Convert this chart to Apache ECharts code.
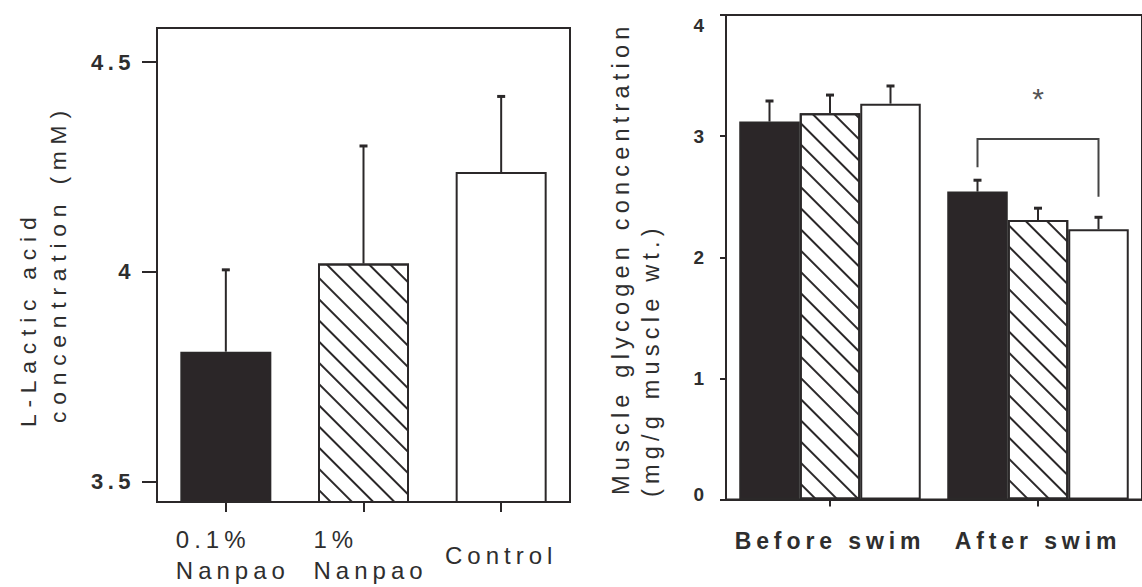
<!DOCTYPE html>
<html>
<head>
<meta charset="utf-8">
<script src="https://cdn.jsdelivr.net/npm/echarts@6/dist/echarts.min.js"></script>
<style>
  html, body { margin: 0; padding: 0; background: #ffffff; }
  #chart { width: 1142px; height: 587px; }
  /* wide tracking of the lettering, keyed on the size used by each text role */
  #chart text[style*="22.8px"] { letter-spacing: 6.8px; } /* left axis title */
  #chart text[style*="23.5px"] { letter-spacing: 5.2px; } /* right axis title */
  #chart text[style*="23px"] { letter-spacing: 4.9px; }   /* swim categories */
  #chart text[style*="24px"] { letter-spacing: 5px; }     /* treatment categories */
  #chart text[style*="22px"] { letter-spacing: 4.5px; }   /* left tick labels */
  #chart text[style*="19px"] { letter-spacing: 1px; }     /* right tick labels */
</style>
</head>
<body>
<div id="chart"></div>
<script>
// ---- L-lactic acid panel ----
const lacticCategories = ['0.1%\nNanpao', '1%\nNanpao', 'Control'];
const lacticMean = [3.81, 4.02, 4.238];
const lacticSem = [0.195, 0.28, 0.18];
const lacticTicks = [3.5, 4, 4.5];
const lacticRange = [3.452, 4.581];

// ---- muscle glycogen panel ----
const swimCategories = ['Before swim', 'After swim'];
const glycogenLow = [3.12, 2.542];       // 0.1% Nanpao
const glycogenHigh = [3.189, 2.308];     // 1% Nanpao
const glycogenControl = [3.268, 2.231];  // control
const glycogenLowSem = [0.17, 0.094];
const glycogenHighSem = [0.15, 0.097];
const glycogenControlSem = [0.146, 0.099];
const glycogenTicks = [0, 1, 2, 3, 4];

// significance bracket after swim (0.1% Nanpao vs control)
const bracketTop = [2.977];
const bracketLeftFoot = [2.743];
const bracketRightFoot = [2.50];
const starLevel = [3.31];

const FONT = 'Liberation Sans, Arial, Helvetica, sans-serif';
const INK = '#2b2829';
const TEXT = '#2e2e2e';
const SWIM_BAR = 60.5;

const hatch = {
  symbol: 'rect',
  symbolSize: 1,
  color: INK,
  backgroundColor: '#ffffff',
  dashArrayX: [1, 0],
  dashArrayY: [2, 13],
  rotation: Math.PI / 4
};
const fills = [
  { color: '#2b2628' },
  { color: '#ffffff', decal: hatch },
  { color: '#ffffff' }
];

function errorBars(axisIndex, means, sems, offset) {
  return {
    type: 'custom',
    xAxisIndex: axisIndex,
    yAxisIndex: axisIndex,
    z: 5,
    silent: true,
    clip: false,
    data: means.map((m, i) => [i, m, m + sems[i]]),
    encode: { x: 0, y: [1, 2] },
    renderItem(params, api) {
      const base = api.coord([api.value(0), api.value(1)]);
      const top = api.coord([api.value(0), api.value(2)]);
      const x = base[0] + offset;
      return {
        type: 'group',
        children: [
          { type: 'line', shape: { x1: x, y1: base[1], x2: x, y2: top[1] },
            style: { stroke: INK, lineWidth: 2 } },
          { type: 'line', shape: { x1: x - 4, y1: top[1], x2: x + 4, y2: top[1] },
            style: { stroke: INK, lineWidth: 3 } }
        ]
      };
    }
  };
}

function axisTitle(text, x, y, size) {
  return {
    type: 'text', x: x, y: y, rotation: Math.PI / 2, silent: true,
    style: { text: text, fontSize: size, fontFamily: FONT, fill: TEXT,
             align: 'left', textAlign: 'left', verticalAlign: 'middle', textVerticalAlign: 'middle' }
  };
}

const chart = echarts.init(document.getElementById('chart'), null, { renderer: 'svg' });

const option = {
  animation: false,
  backgroundColor: '#ffffff',
  textStyle: { fontFamily: FONT, color: TEXT },
  grid: [
    { left: 157, top: 28, width: 413, height: 474, show: true, borderColor: INK, borderWidth: 2, backgroundColor: 'transparent' },
    { left: 726, top: 15, width: 418, height: 484.5, show: true, borderColor: INK, borderWidth: 2, backgroundColor: 'transparent' }
  ],
  xAxis: [
    {
      gridIndex: 0, type: 'category', data: lacticCategories, boundaryGap: true,
      axisLine: { show: true, lineStyle: { color: INK, width: 2 } },
      axisTick: { show: true, alignWithLabel: true, length: 10, lineStyle: { color: INK, width: 2 } },
      axisLabel: {
        interval: 0, margin: 22, color: TEXT, fontFamily: FONT, fontSize: 24,
        formatter: v => v.includes('\n')
          ? v.split('\n').map(s => '{n|' + s + '}').join('\n')
          : '{c|' + v + '}',
        rich: {
          n: { fontSize: 24, fontFamily: FONT, color: TEXT, width: 100, align: 'left', lineHeight: 31 },
          c: { fontSize: 24, fontFamily: FONT, color: TEXT, lineHeight: 62 }
        }
      },
      splitLine: { show: false }
    },
    {
      gridIndex: 1, type: 'category', data: swimCategories, boundaryGap: true,
      axisLine: { show: true, lineStyle: { color: INK, width: 2 } },
      axisTick: { show: true, alignWithLabel: true, length: 7, lineStyle: { color: INK, width: 2 } },
      axisLabel: { interval: 0, margin: 27, color: TEXT, fontFamily: FONT, fontSize: 23, fontWeight: 'bold', lineHeight: 28 },
      splitLine: { show: false }
    }
  ],
  yAxis: [
    {
      gridIndex: 0, type: 'value', min: lacticRange[0], max: lacticRange[1],
      axisLine: { show: true, lineStyle: { color: INK, width: 2 } },
      axisTick: { show: true, length: 15, customValues: lacticTicks, lineStyle: { color: INK, width: 2 } },
      axisLabel: { customValues: lacticTicks, margin: 22, color: TEXT, fontFamily: FONT, fontSize: 22, fontWeight: 'bold',
        formatter: v => String(v) },
      splitLine: { show: false }
    },
    {
      gridIndex: 1, type: 'value', min: 0, max: 4, interval: 1,
      axisLine: { show: true, lineStyle: { color: INK, width: 2 } },
      axisTick: { show: true, length: 6, lineStyle: { color: INK, width: 2 } },
      axisLabel: {
        margin: 21, color: TEXT, fontFamily: FONT, fontSize: 19, fontWeight: 'bold',
        formatter: v => v === glycogenTicks[glycogenTicks.length - 1] ? '{t|' + v + '}'
          : v === glycogenTicks[0] ? '{b|' + v + '}' : String(v),
        rich: {
          t: { fontSize: 19, fontWeight: 'bold', fontFamily: FONT, color: TEXT, padding: [20, 0, 0, 0] },
          b: { fontSize: 19, fontWeight: 'bold', fontFamily: FONT, color: TEXT, padding: [0, 0, 10, 0] }
        }
      },
      splitLine: { show: false }
    }
  ],
  graphic: [
    axisTitle('L-Lactic acid', 28, 427, 22.8),
    axisTitle('concentration (mM)', 58, 423, 22.8),
    axisTitle('Muscle glycogen concentration', 621, 495, 23.5),
    axisTitle('(mg/g muscle wt.)', 651, 497, 23.5)
  ],
  series: [
    {
      type: 'bar', xAxisIndex: 0, yAxisIndex: 0, barWidth: 91,
      data: lacticMean.map((v, i) => ({ value: v, itemStyle: fills[i] })),
      itemStyle: { borderColor: INK, borderWidth: 2 },
      silent: true
    },
    errorBars(0, lacticMean, lacticSem, 0),
    ...[glycogenLow, glycogenHigh, glycogenControl].map((d, k) => ({
      type: 'bar', xAxisIndex: 1, yAxisIndex: 1, barWidth: SWIM_BAR, barGap: '0%',
      data: d,
      itemStyle: Object.assign({ borderColor: INK, borderWidth: 2 }, fills[k]),
      silent: true
    })),
    errorBars(1, glycogenLow, glycogenLowSem, -SWIM_BAR),
    errorBars(1, glycogenHigh, glycogenHighSem, 0),
    errorBars(1, glycogenControl, glycogenControlSem, SWIM_BAR),
    {
      type: 'custom', xAxisIndex: 1, yAxisIndex: 1, z: 6, silent: true, clip: false,
      data: [[1, bracketTop[0], bracketLeftFoot[0], bracketRightFoot[0], starLevel[0]]],
      encode: { x: 0, y: [1, 2, 3, 4] },
      renderItem(params, api) {
        const c = api.coord([api.value(0), api.value(1)]);
        const xl = c[0] - SWIM_BAR, xr = c[0] + SWIM_BAR;
        const yl = api.coord([api.value(0), api.value(2)])[1];
        const yr = api.coord([api.value(0), api.value(3)])[1];
        const ys = api.coord([api.value(0), api.value(4)])[1];
        return {
          type: 'group',
          children: [
            { type: 'polyline', shape: { points: [[xl, yl], [xl, c[1]], [xr, c[1]], [xr, yr]] },
              style: { stroke: '#444444', lineWidth: 2, fill: null } },
            { type: 'text', x: c[0], y: ys,
              style: { text: '*', fontSize: 30, fontFamily: FONT, fill: '#555555',
                       align: 'center', textAlign: 'center', verticalAlign: 'middle', textVerticalAlign: 'middle' } }
          ]
        };
      }
    }
  ]
};

chart.setOption(option);
</script>
</body>
</html>
